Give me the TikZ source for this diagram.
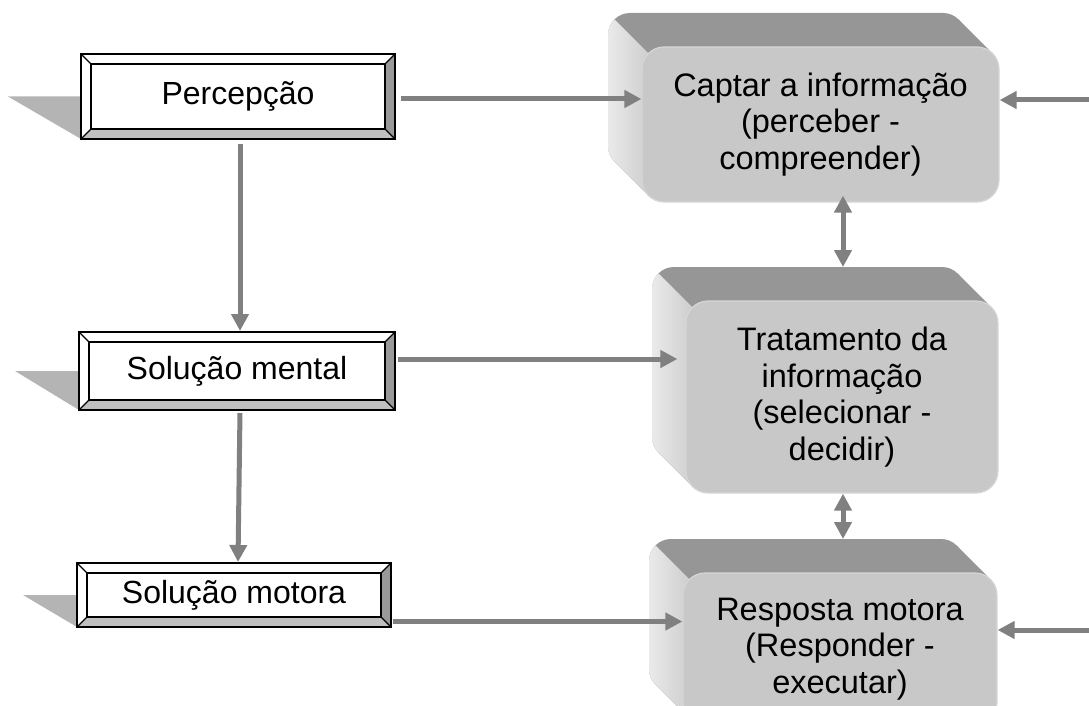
\documentclass[tikz,border=0pt]{standalone}
\usepackage{fontspec}
\setmainfont{Liberation Sans}
\usetikzlibrary{arrows.meta}

\definecolor{arrowgray}{RGB}{128,128,128}
\definecolor{shadowgray}{RGB}{180,180,180}
\definecolor{bevelright}{RGB}{153,153,153}
\definecolor{bevelbottom}{RGB}{192,192,192}
\definecolor{slabtop}{RGB}{150,150,150}
\definecolor{slabfront}{RGB}{200,200,200}
\definecolor{slabrim}{RGB}{214,214,214}
\definecolor{slabsideL}{RGB}{234,234,234}
\definecolor{slabsideR}{RGB}{206,206,206}

\tikzset{
  platebox/.style={draw=black, line width=2pt, inner sep=0pt,
    text height=24pt, text depth=7pt,
    font=\fontsize{32}{37}\selectfont},
  slabface/.style={rounded corners=22pt, fill=slabfront, draw=slabrim,
    line width=1.2pt, inner sep=0pt, align=center,
    font=\fontsize{32.5}{36.5}\selectfont},
  arr/.style={draw=arrowgray, line width=5pt,
    -{Triangle[length=17pt,width=17pt]}},
  dblarr/.style={draw=arrowgray, line width=5pt,
    {Triangle[length=17pt,width=17pt]}-{Triangle[length=17pt,width=17pt]}},
}

% framed label with a bevelled border and a wedge shadow on its left
% #1 name, #2 x1, #3 y1, #4 x2, #5 y2, #6 shadow tip x, #7 text
\newcommand{\bevelplate}[7]{%
  \fill[shadowgray] (#6,{(#3+#5)/2}) -- (#2,{(#3+#5)/2}) -- (#2,#5) -- cycle;
  \fill[white] (#2,#3) -- (#4,#3) -- (#4-10,#3+10) -- (#2+10,#3+10) -- cycle;
  \fill[white] (#2,#3) -- (#2+10,#3+10) -- (#2+10,#5-10) -- (#2,#5) -- cycle;
  \fill[bevelright] (#4,#3) -- (#4,#5) -- (#4-10,#5-10) -- (#4-10,#3+10) -- cycle;
  \fill[bevelbottom] (#2,#5) -- (#4,#5) -- (#4-10,#5-10) -- (#2+10,#5-10) -- cycle;
  \draw[line width=1.2pt] (#2,#3) -- (#2+10,#3+10) (#4,#3) -- (#4-10,#3+10)
    (#4,#5) -- (#4-10,#5-10) (#2,#5) -- (#2+10,#5-10);
  \draw[line width=2pt] (#2+10,#3+10) rectangle (#4-10,#5-10);
  \node[platebox, minimum width=#4-#2, minimum height=#5-#3]
    (#1) at ({(#2+#4)/2},{(#3+#5)/2}) {#7};
}

% rounded slab extruded 34 units towards the upper left
% #1 name, #2 x1, #3 y1, #4 x2, #5 y2 (front face), #6 text
\newcommand{\extrudedbox}[6]{%
  \fill[slabtop, rounded corners=22pt] (#2-34,#3-34) rectangle (#4-34,#5-34);
  \fill[slabtop] (#4-34-6.44,#3-34+6.44) -- (#4-6.44,#3+6.44)
    -- (#2+6.44,#5-6.44) -- (#2-34+6.44,#5-34-6.44) -- cycle;
  \shade[left color=slabsideL, right color=slabsideR]
    (#2-34+6.44,#3-34+6.44) arc[start angle=225, end angle=180, radius=22]
    -- (#2-34,#5-34-22) arc[start angle=180, end angle=135, radius=22]
    -- (#2+6.44,#5-6.44) arc[start angle=135, end angle=180, radius=22]
    -- (#2,#3+22) arc[start angle=180, end angle=225, radius=22] -- cycle;
  \coordinate (#1-back) at ({(#2+#4)/2-34},#3-34);
  \node[slabface, minimum width=#4-#2, minimum height=#5-#3]
    (#1) at ({(#2+#4)/2},{(#3+#5)/2}) {#6};
}

\begin{document}
\begin{tikzpicture}[x=1pt, y=-1pt]
\useasboundingbox (0,0) rectangle (1089,706);
\clip (0,0) rectangle (1089,706);

% processing stages
\extrudedbox{capt}{642}{47}{999}{202}{Captar a informação\\(perceber -\\compreender)}
\extrudedbox{trat}{686}{301}{998}{493}{Tratamento da\\informação\\(selecionar -\\decidir)}
\extrudedbox{resp}{683}{573}{997}{725}{Resposta motora\\(Responder -\\executar)}

% phases
\bevelplate{perc}{81}{54}{395}{139}{8}{Percepção}
\bevelplate{ment}{79}{332}{395}{410}{15}{Solução mental}
\bevelplate{motr}{77}{563}{391}{627}{23}{Solução motora}

% free ends entering from the right
\coordinate (inA) at (1092,100);
\coordinate (inB) at (1092,630);

% horizontal links
\draw[arr, shorten <=5pt] (perc.east |- 0,99) -- (capt.west |- 0,99);
\draw[arr, shorten <=2pt, shorten >=8pt] (ment.east |- 0,359) -- (trat.west |- 0,359);
\draw[arr, shorten <=1pt] (motr.east |- 0,621.5) -- (resp.west |- 0,621.5);
\draw[arr] (inA) -- (capt.east |- inA);
\draw[arr] (inB) -- (resp.east |- inB);

% vertical links between phases
\draw[arr, shorten <=4pt] (perc.south -| 240,0) -- (ment.north -| 240,0);
\draw[arr, shorten <=2pt] (ment.south -| 240,0) -- (motr.north -| 238,0);

% links between stages
\draw[dblarr, shorten <=-7pt] (capt.south -| 843,0) -- (trat-back -| 843,0);
\draw[dblarr] (trat.south -| 843,0) -- (resp-back -| 843,0);
\end{tikzpicture}
\end{document}
